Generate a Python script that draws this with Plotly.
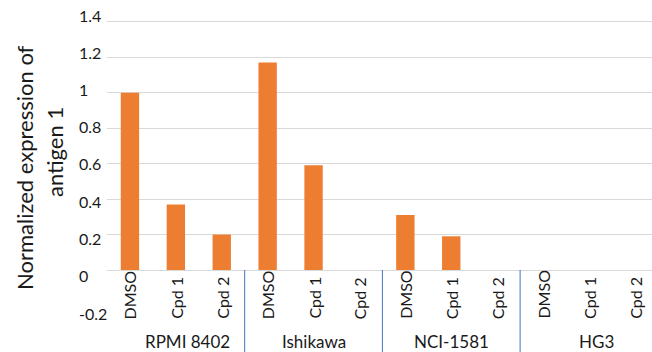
import plotly.graph_objects as go

groups = ["RPMI 8402", "Ishikawa", "NCI-1581", "HG3"]
treatments = ["DMSO", "Cpd 1", "Cpd 2"]
values = [
    [1.00, 0.37, 0.20],   # RPMI 8402
    [1.17, 0.59, 0.00],   # Ishikawa
    [0.31, 0.19, 0.00],   # NCI-1581
    [0.00, 0.00, 0.00],   # HG3
]
y_ticks = [1.4, 1.2, 1.0, 0.8, 0.6, 0.4, 0.2, 0.0, -0.2]
y_tick_text = ["1.4", "1.2", "1", "0.8", "0.6", "0.4", "0.2", "0", "-0.2"]
y_title_lines = ["Normalized expression of", "antigen 1"]

W, H = 652, 352
FONT = "Lato, 'Open Sans', sans-serif"
TXT = "#1a1a1a"

xs, ys, labels = [], [], []
i = 0
for g, vals in zip(groups, values):
    for t, v in zip(treatments, vals):
        xs.append(i)
        ys.append(v)
        labels.append(t)
        i += 1

fig = go.Figure()
fig.add_trace(go.Bar(x=xs, y=ys, marker=dict(color="#ED7D31", line=dict(width=0)),
                     width=0.4, hoverinfo="skip"))

# geometry (pixels)
plot_left = 107
top_px = 20
y14_px = 21.7
y0_px = 270
px_per_unit = (y0_px - y14_px) / 1.4
y_hi = 1.4 + (y14_px - top_px) / px_per_unit
y_lo = -(H - y0_px) / px_per_unit
cat_px = 45.9
x_lo = -0.5
x_hi = x_lo + (W - plot_left) / cat_px
plot_w = W - plot_left
plot_h = H - top_px


def px_x(p):
    return (p - plot_left) / plot_w


def px_y(p):
    return (H - p) / plot_h


grid_vals = [v for v in y_ticks if v >= 0]

annotations = []
# tick labels: spaced slightly wider than the gridlines, as in the reference
lab_top, lab_step = 15.0, 37.25
for k, t in enumerate(y_tick_text):
    annotations.append(dict(x=px_x(77), xref="paper", y=px_y(lab_top + k * lab_step),
                            yref="paper", text=t, showarrow=False,
                            xanchor="left", yanchor="middle",
                            font=dict(family=FONT, size=16, color=TXT)))

for x, t in zip(xs, labels):
    annotations.append(dict(x=x, xref="x", y=px_y(321), yref="paper", text=t,
                            showarrow=False, textangle=-90, xanchor="center",
                            yanchor="bottom", font=dict(family=FONT, size=16, color=TXT)))

group_shift = [0.25, 0.0, 0.0, 0.17]
for gi, g in enumerate(groups):
    annotations.append(dict(x=gi * 3 + 1 + group_shift[gi], xref="x", y=px_y(341),
                            yref="paper", text=g, showarrow=False, xanchor="center",
                            yanchor="middle", font=dict(family=FONT, size=17, color=TXT)))

annotations.append(dict(x=px_x(24), xref="paper", y=px_y(168), yref="paper",
                        text=y_title_lines[0], showarrow=False, textangle=-90,
                        xanchor="center", yanchor="middle",
                        font=dict(family=FONT, size=22, color=TXT)))
annotations.append(dict(x=px_x(55), xref="paper", y=px_y(152), yref="paper",
                        text=y_title_lines[1], showarrow=False, textangle=-90,
                        xanchor="center", yanchor="middle",
                        font=dict(family=FONT, size=22, color=TXT)))

shapes = []
for k in range(1, len(groups)):
    xb = k * 3 - 0.5
    shapes.append(dict(type="line", xref="x", yref="y", x0=xb, x1=xb, y0=0, y1=y_lo,
                       line=dict(color="#4472C4", width=1)))

fig.update_layout(
    width=W, height=H,
    margin=dict(l=plot_left, r=0, t=top_px, b=0),
    paper_bgcolor="white", plot_bgcolor="white",
    showlegend=False,
    xaxis=dict(range=[x_lo, x_hi], showticklabels=False, showgrid=False, zeroline=False,
               showline=False, ticks="", fixedrange=True),
    yaxis=dict(range=[y_lo, y_hi], tickvals=grid_vals, showticklabels=False,
               showgrid=True, gridcolor="#d9d9d9", gridwidth=1, zeroline=False,
               showline=False, ticks="", fixedrange=True),
    annotations=annotations,
    shapes=shapes,
)
fig.write_html("out.html", config={"displayModeBar": False},
               post_script="document.body.style.margin='0';document.body.style.overflow='hidden';")
